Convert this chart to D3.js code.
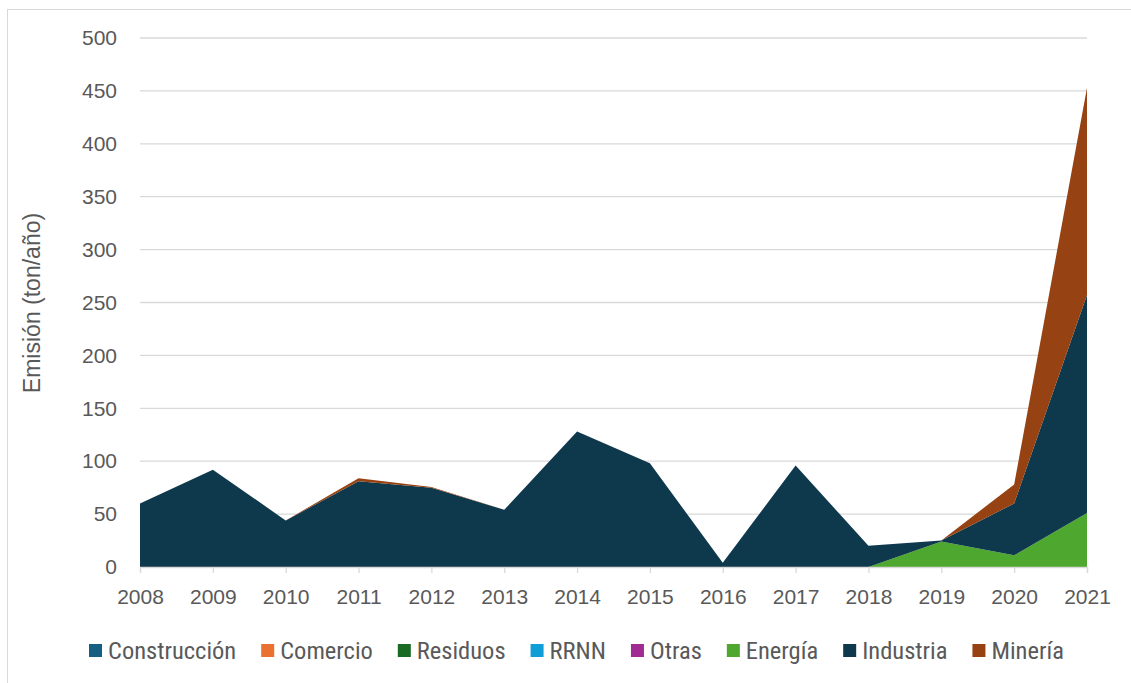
<html>
<head>
    <meta charset="utf-8">
    <title>Emisión por sector</title>
</head>
<style>
    body { margin: 0; background: #fff; }
    text { font-family: "Liberation Sans", Arial, sans-serif; fill: #595959; }
    .legend text { font-family: "Liberation Sans Narrow", "Roboto Condensed", "Liberation Sans", sans-serif; }
</style>
<body>
<script src="https://cdn.jsdelivr.net/npm/d3@7"></script>
<script>
    var width = 1131;
    var height = 683;

    // datos
    var years = [2008, 2009, 2010, 2011, 2012, 2013, 2014, 2015, 2016, 2017, 2018, 2019, 2020, 2021];
    var sectors = ["Construcción", "Comercio", "Residuos", "RRNN", "Otras", "Energía", "Industria", "Minería"];
    var colors = ["#156082", "#E97132", "#196B24", "#0F9ED5", "#A02B93", "#4EA72E", "#0E384C", "#974212"];

    var construccion = [0, 0, 0, 0, 0, 0, 0, 0, 0, 0, 0, 0, 0, 0];
    var comercio     = [0, 0, 0, 0, 0, 0, 0, 0, 0, 0, 0, 0, 0, 0];
    var residuos     = [0, 0, 0, 0, 0, 0, 0, 0, 0, 0, 0, 0, 0, 0];
    var rrnn         = [0, 0, 0, 0, 0, 0, 0, 0, 0, 0, 0, 0, 0, 0];
    var otras        = [0, 0, 0, 0, 0, 0, 0, 0, 0, 0, 0, 0, 0, 0];
    var energia      = [0, 0, 0, 0, 0, 0, 0, 0, 0, 0, 0, 24, 11, 51];
    var industria    = [60, 92, 44, 81, 75, 54, 128, 98, 4, 96, 20, 1, 49, 206];
    var mineria      = [0, 0, 0, 3, 0.5, 0, 0, 0, 0, 0, 0, 0, 18, 196];

    var yTicks = [0, 50, 100, 150, 200, 250, 300, 350, 400, 450, 500];

    var series = [construccion, comercio, residuos, rrnn, otras, energia, industria, mineria];

    var rows = years.map(function (y, i) {
        var r = {year: y};
        sectors.forEach(function (s, k) { r[s] = series[k][i]; });
        return r;
    });

    var svg = d3.select("body").append("svg")
            .attr("width", width)
            .attr("height", height);

    // marco del gráfico
    svg.append("rect")
            .attr("x", 7.5).attr("y", 9.5)
            .attr("width", 1300).attr("height", 1000)
            .attr("fill", "none")
            .attr("stroke", "#d9d9d9");

    var x = d3.scaleLinear().domain([2008, 2021]).range([140, 1087]);
    var y = d3.scaleLinear().domain([0, 500]).range([567, 38]);

    // líneas de cuadrícula
    svg.append("g")
            .selectAll("line")
            .data(yTicks.slice(1))
            .enter()
            .append("line")
            .attr("x1", 140).attr("x2", 1087)
            .attr("y1", function (d) { return y(d); })
            .attr("y2", function (d) { return y(d); })
            .attr("stroke", "#d9d9d9")
            .attr("stroke-width", 1.3);

    var stack = d3.stack().keys(sectors);
    var layers = stack(rows);

    var area = d3.area()
            .x(function (d) { return x(d.data.year); })
            .y0(function (d) { return y(d[0]); })
            .y1(function (d) { return y(d[1]); });

    svg.append("g")
            .selectAll("path")
            .data(layers)
            .enter()
            .append("path")
            .attr("fill", function (d, i) { return colors[i]; })
            .attr("d", area);

    // eje x
    var xAxis = d3.axisBottom(x)
            .tickValues(years)
            .tickFormat(d3.format("d"))
            .tickSize(6)
            .tickPadding(16);

    var gx = svg.append("g")
            .attr("transform", "translate(0,567)")
            .call(xAxis);
    gx.select(".domain").attr("stroke", "#d9d9d9").attr("stroke-width", 1.3);
    gx.selectAll(".tick line").attr("stroke", "#d9d9d9").attr("stroke-width", 1.3);
    gx.selectAll(".tick text")
            .attr("font-size", "21px")
            .attr("fill", "#595959")
            .style("font-family", "Liberation Sans, Arial, sans-serif");

    // eje y
    var yAxis = d3.axisLeft(y)
            .tickValues(yTicks)
            .tickSize(0)
            .tickPadding(23);

    var gy = svg.append("g")
            .attr("transform", "translate(140,0)")
            .call(yAxis);
    gy.select(".domain").remove();
    gy.selectAll(".tick text")
            .attr("font-size", "21px")
            .attr("fill", "#595959")
            .style("font-family", "Liberation Sans, Arial, sans-serif");

    svg.append("text")
            .attr("transform", "translate(40,303) rotate(-90)")
            .attr("text-anchor", "middle")
            .attr("font-size", "23px")
            .text("Emisión (ton/año)");

    // leyenda
    var legend = svg.append("g").attr("class", "legend");
    var lx = 89;
    sectors.forEach(function (s, i) {
        var g = legend.append("g").attr("transform", "translate(" + lx + ",0)");
        g.append("rect")
                .attr("x", 0).attr("y", 644)
                .attr("width", 13).attr("height", 13)
                .attr("fill", colors[i]);
        var t = g.append("text")
                .attr("x", 19).attr("y", 659)
                .attr("font-size", "24.5px")
                .text(s);
        lx += 19 + t.node().getComputedTextLength() + 25;
    });
</script>
</body>
</html>
